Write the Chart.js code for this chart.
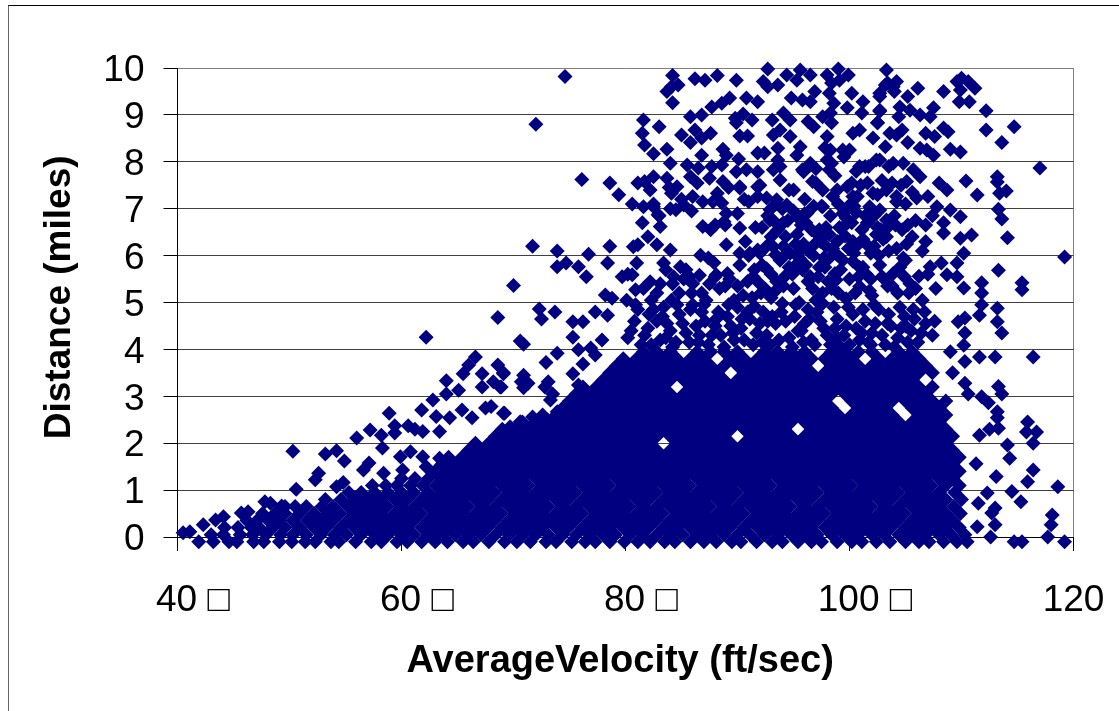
<!DOCTYPE html>
<html>
<head>
<meta charset="utf-8">
<title>Distance vs average velocity</title>
<script src="https://cdn.jsdelivr.net/npm/chart.js@4/dist/chart.umd.min.js"></script>
<style>
  html, body { margin: 0; padding: 0; background: #fff; overflow: hidden; }
  #frame { position: absolute; left: 8px; top: 5px; right: 0; bottom: 0; border-top: 1px solid #000; border-left: 1px solid #666; }
  #wrap { position: absolute; left: 0; top: 0; width: 1119px; height: 711px; }
</style>
</head>
<body>
<div id="frame"></div>
<div id="wrap"><canvas id="chart" width="1119" height="711"></canvas></div>
<script>
const yTickLabels = ['0', '1', '2', '3', '4', '5', '6', '7', '8', '9', '10'];
// the blank lead keeps the digits centred on the tick, the box hangs off to the right
const xTickLabels = ['\u00a0\u00a0\u00a040\u00a0\u25A1', '\u00a0\u00a0\u00a060\u00a0\u25A1', '\u00a0\u00a0\u00a080\u00a0\u25A1', '\u00a0\u00a0\u00a0100\u00a0\u25A1', '120'];

// isolated marks
const sparseVelocity = [
  74.6, 72, 76.1, 68.6, 62.2, 66.6, 66, 65.5, 67.2, 68.6, 69.1, 68.2, 68.8, 67.2, 65.1, 64, 64, 62.8, 61.8, 58.9, 63.1, 64.3, 65.4, 66.3, 67.5, 68, 69.1, 59.4, 59.4, 60.6, 61.2, 61.9, 63.4, 57.2, 58.2, 56, 58.3, 50.3, 53.2, 54.2, 54.9, 57.1, 52.6, 52.3, 54.8, 54.2, 50.6, 47.8, 48.3, 49.3, 46.3, 45.7, 44.1, 43.4, 42.3, 41.1, 40.5, 59.9, 60.8, 61.9, 62.2, 63.4, 60.1, 56.6, 58.4,
  71.7, 73.9, 76.7, 78.6, 73.9, 74.7, 75.8, 76.5, 78.4, 70, 72.3, 72.5, 73.7, 77.3, 78.4, 75.3, 76.2, 70.6, 70.9, 75.3, 77.9, 75.8, 76.9, 73.9, 72.9, 77.3, 76.2, 69.1, 70.9, 70.7, 71.3, 70.9, 73.1, 72.8, 75.3, 75.8, 68.9, 73.5, 73.3, 75.9, 77.2, 73.9, 75.9, 71.7, 69.2, 70.6, 75.3, 73, 69.7,
  79.7, 80.6, 81.1, 82.8, 80.7, 81, 83.4, 80.1, 80.9, 78.2, 78.8, 82.2, 82.8, 84.3, 84.9, 86.7, 87.4, 88.1, 89, 90.2, 91.1, 92, 93.2, 94.4,
  84.2, 86.2, 87.1, 88.2, 89.9, 92.7, 92.3, 92.7, 93.6, 94.4, 95.6, 95.3, 96.5, 94.8, 95.8, 96.9, 96.5, 84.7, 84.1, 83.7, 84.2, 89.3, 88.6, 87.7, 90.8, 91.8, 98, 99, 99.9, 98.4, 99.1, 98.2, 98.6, 100.2, 101.2, 99.8, 101.1, 103.3, 103.4, 102.7, 103.9, 102.7, 98.3, 98.4, 97.6,
  85.8, 86.8, 89.8, 90.5, 91.3, 89.9, 93.1, 94.1, 94.7, 96.3, 96.8, 83, 81.6, 81.5, 86.2, 85, 85.8, 86.8, 87.6, 90.2, 90.9, 93.8, 93.2, 94.7, 81.7, 82.5, 83.7, 86.8, 88.7, 89, 90.1, 91.8, 92.4, 93.6, 93.6, 95.6, 95.3, 93.8, 96.5, 95.8, 98, 98.3, 98.4, 99.4, 100.3, 102.1, 103.2, 102.5, 100.9, 100,
  104.2, 103.2, 104, 102.7, 106.1, 105.2, 102.7, 104.5, 105.4, 106.3, 107.5, 107.2, 108.4, 110, 109.6, 110.6, 111.2, 109.9, 109.8, 110.7, 112.2, 114.7, 112.2, 113.6, 104.4, 102.5, 108.4, 108.8, 103.6, 104.7, 104.2, 105.2, 106.8, 107.6, 106.3, 106.9, 107.5, 109, 109.9, 117, 110.4, 113.2, 113.2, 111.4, 113.4, 114, 108, 108.7, 107, 106, 105.7, 106.3, 105.1, 103.9, 104.8, 102.7, 100.9, 101.7, 104.2, 101.8, 100.3, 99.8, 97, 98.2, 96.5, 95.9,
  113.3, 113.6, 114.1, 107.8, 109, 109.9, 106.8, 108.4, 108.4, 109.9, 110.9, 119.2, 110.2, 109.6, 107.2, 108.2, 113.3, 108.7,
  115.4, 115.4, 111.8, 111.8, 110.2, 109.6, 111.8, 111.6, 113.2, 113.2, 113.6, 110.3, 109.7, 110.3, 110.2, 111.6, 113, 116.4, 109, 110.3, 109.2, 110.3, 110.6, 113.3, 113.6, 111.8, 112.4, 113.2, 113.2, 113.3, 112.5, 111.6, 115.9, 115.8, 116.7, 116.4, 114.1, 114.3, 111.3, 113.1, 116.4, 115.9, 118.6, 114.5, 115.3, 112.3, 111.5, 113, 112.7, 118.1, 118, 113, 111.4, 112.6, 117.7, 114.7, 115.4, 119.2,
  84, 85.5, 86.5, 87.7, 88.6, 89.9, 90.8, 91.8, 83.7, 84.6, 84.1, 85.8, 87.5, 88.7, 91.8, 90.2, 82.2, 82.5, 81.7, 84, 85.2, 86, 86.9, 88.2, 88.6, 90.2, 91, 91.8, 92.6, 93.5, 94.4, 95, 93.8, 93.2, 96.7, 98, 97.6, 98.5, 100.2, 101.6, 102.1, 102.7, 103.3, 100.7, 101.4, 103.5, 102.4, 81.6, 82.5, 82.9, 83.1, 86.9, 88, 88.9, 89, 90.2, 92.9, 94.1, 95.3, 96.2, 97.6, 99.4, 101.6, 103.3
];
const sparseDistance = [
  9.82, 8.8, 7.62, 4.68, 4.26, 3.84, 3.67, 3.48, 3.48, 3.67, 3.48, 3.31, 3.2, 3.2, 3.13, 3.33, 3.05, 2.92, 2.71, 2.64, 2.57, 2.54, 2.71, 2.54, 2.75, 2.78, 2.64, 2.37, 2.22, 2.37, 2.3, 2.25, 2.25, 2.28, 2.17, 2.11, 1.9, 1.83, 1.77, 1.84, 1.62, 1.58, 1.36, 1.22, 1.16, 1.07, 1.02, 0.75, 0.72, 0.66, 0.54, 0.51, 0.43, 0.36, 0.26, 0.11, 0.09, 1.71, 1.82, 1.71, 1.5, 1.68, 1.43, 1.43, 1.36,
  6.2, 6.1, 6.03, 6.2, 5.76, 5.84, 5.76, 5.55, 5.84, 5.36, 4.86, 4.65, 4.8, 4.8, 4.73, 4.59, 4.59, 4.18, 4.11, 4.26, 4.2, 3.99, 4.03, 3.92, 3.72, 3.88, 3.69, 3.5, 3.45, 3.31, 3.28, 3.18, 3.31, 3.2, 3.48, 3.24, 3.2, 3.05, 2.92, 2.99, 2.96, 2.67, 2.86, 2.56, 2.64, 2.46, 2.64, 2.5, 2.35,
  5.55, 5.59, 6.23, 6.23, 6.19, 5.84, 5.84, 5.05, 5.27, 5.16, 5.09, 5.44, 5.2, 5.55, 5.76, 6.01, 5.95, 5.59, 6.23, 6.05, 6.05, 6.05, 6.19, 6.05,
  9.84, 9.77, 9.74, 9.84, 9.74, 9.98, 9.71, 9.6, 9.64, 9.85, 9.96, 9.74, 9.85, 9.36, 9.32, 9.5, 9.28, 9.64, 9.6, 9.5, 9.26, 9.36, 9.25, 9.17, 9.36, 9.28, 9.85, 9.98, 9.85, 9.68, 9.74, 9.46, 9.25, 9.46, 9.28, 9.15, 9.04, 9.96, 9.68, 9.46, 9.6, 9.08, 9.04, 8.83, 8.96,
  8.96, 9, 8.93, 9.02, 8.89, 8.83, 8.89, 9.04, 8.89, 8.86, 8.75, 8.75, 8.89, 8.61, 8.68, 8.57, 8.41, 8.51, 8.61, 8.55, 8.55, 8.68, 8.57, 8.54, 8.36, 8.17, 8.27, 8.14, 8.27, 8.14, 8.06, 8.19, 8.19, 8.29, 8.04, 8.32, 8.14, 7.9, 7.97, 7.83, 8.54, 8.25, 7.97, 8.25, 8.61, 8.51, 8.32, 8.83, 8.68, 8.25,
  9.71, 9.64, 9.5, 9.39, 9.57, 9.39, 9.1, 9.17, 9.1, 9, 9.15, 8.96, 9.5, 9.78, 9.71, 9.71, 9.57, 9.53, 9.28, 9.28, 9.09, 8.75, 8.68, 8.41, 8.96, 8.83, 8.72, 8.64, 8.61, 8.68, 8.57, 8.41, 8.61, 8.54, 8.29, 8.25, 8.14, 8.27, 8.21, 7.87, 7.59, 7.68, 7.57, 7.29, 7.33, 7.38, 7.55, 7.4, 7.26, 7.23, 7.83, 7.68, 7.58, 7.97, 7.97, 8.04, 7.9, 7.9, 7.26, 7.04, 7.26, 7.47, 7.55, 7.83, 7.93, 7.79,
  6.99, 6.78, 6.38, 7.04, 6.97, 6.83, 6.65, 6.7, 6.48, 6.37, 6.44, 5.97, 6.05, 5.84, 5.76, 5.84, 5.69, 5.59,
  5.42, 5.27, 5.42, 5.2, 5.31, 5.55, 4.95, 4.73, 4.88, 4.59, 4.35, 4.67, 4.59, 4.35, 4.09, 3.84, 3.84, 3.84, 3.95, 3.74, 3.5, 3.28, 3.05, 3.21, 3.05, 2.99, 2.86, 2.67, 2.54, 2.32, 2.3, 2.17, 2.45, 2.24, 2.24, 2, 1.96, 1.68, 1.56, 1.29, 1.43, 1.18, 1.07, 0.97, 0.75, 0.94, 0.72, 0.62, 0.51, 0.47, 0.26, 0.26, 0.22, 0, 0, -0.1, -0.1, -0.1,
  7.97, 7.93, 7.87, 7.9, 7.93, 7.79, 7.83, 7.79, 7.65, 7.47, 7.33, 7.68, 7.65, 7.58, 7.47, 7.47, 7.4, 7.68, 7.58, 7, 7.08, 7.26, 7.15, 7.33, 7.12, 7.44, 7.15, 7.26, 7.23, 7.19, 7.08, 7.4, 7.61, 7.83, 7.58, 8.04, 7.4, 7.26, 7.55, 7.55, 7.33, 6.97, 7.4, 7.26, 7.9, 7.9, 8.04, 7.04, 7.04, 6.87, 6.62, 6.62, 6.65, 6.65, 6.9, 6.59, 6.76, 6.7, 6.83, 6.9, 7.04, 6.9, 6.7, 6.76
];

// loose clumps above four miles
const upperVelocity = [
  80.2, 80.8, 81.4, 82, 82.5, 83.1, 83.7, 84.2, 84.8, 85.4, 86, 86.5, 87.1, 87.7, 88.3, 88.8, 89.4, 90, 90.6, 91.1, 91.7, 92.3, 92.9, 93.4, 94, 94.6, 95.1, 95.7, 96.3, 96.9, 97.4, 98, 98.6, 99.2, 99.7, 100.3, 100.9, 101.4, 102, 102.6, 103.2, 103.7, 104.3, 104.9, 105.5, 106.1, 106.8, 107.4,
  80.5, 81.1, 81.7, 82.3, 82.8, 83.4, 84, 84.5, 85.1, 85.7, 86.3, 86.8, 87.4, 88, 88.5, 89.1, 89.7, 90.3, 90.9, 91.4, 92, 92.6, 93.1, 93.7, 94.3, 94.9, 95.4, 96, 96.6, 97.1, 97.7, 98.3, 98.9, 99.5, 100, 100.6, 101.2, 101.7, 102.3, 102.9, 103.5, 104, 104.6, 105.2, 105.8, 106.4,
  80.9, 82.1, 83.3, 84.6, 85.8, 87, 88.1, 89.2, 90.4, 91.5, 92.7, 93.9, 95.2, 96.4, 97.6, 98.7, 99.9, 101.1, 102.2, 103.4, 104.5, 105.7, 106.7, 107.6, 83.6, 86.6, 89.6, 92.2, 95.9, 98.9, 101.9, 105,
  84.8, 86, 87.2, 88.4, 89.3, 90.5, 91.9, 93, 94.1, 95.5, 96.3, 97.6, 98.8, 99.7, 100.9, 102, 103.1, 104.3, 105.4, 106.5, 107.7, 85.2, 92.5, 95, 97,
  85.4, 86.6, 87.9, 89.1, 90.2, 91.4, 92.6, 93.8, 94.9, 96.1, 97.2, 98.2, 99.2, 100.3, 101.5, 102.7, 103.9, 105, 106.2, 95.5, 97.8, 100.8, 104.5, 93,
  90.7, 91.8, 93, 94.1, 95.3, 96.4, 97.4, 98.5, 99.6, 100.7, 101.9, 103, 104.2, 105.6, 106.5, 82, 84, 95.9, 98.9, 97, 102.4,
  81.5, 83, 87.6, 88.8, 90, 91.6, 92.7, 93.9, 95, 96.1, 97.3, 98.3, 99.5, 100.6, 101.6, 102.8, 104, 105.2, 84.5, 85.9,
  79.4, 81.1, 82.5, 83.9, 85, 86.4, 87.8, 89.2, 90.6, 92, 93.4, 94.6, 96, 97.5, 98.9, 99.9, 101, 102.5, 103.8, 105, 78.6, 80.6,
  92.2, 93.4, 94.5, 95.8, 96.8, 97.9, 98.7, 99.9, 100.2, 101.2, 101.2, 102.2, 103.5, 103.4, 104.7, 105.3, 92.1, 93.5, 94.6, 95.7, 96.7, 97.7, 98.4, 99.4, 100.5, 101.9, 102.2, 103.4, 104.8, 92.9, 94.3, 95.6, 96.6, 97.9, 99.1, 100.3, 101.4, 102.6, 91, 90, 91.5, 89.7, 88, 86.8, 85.7, 84.2, 83.6, 82.3, 83.1, 81.6, 80.2,
  84.1, 85.9, 87.5, 88.9, 90.9, 91.3, 92.2, 93.4, 94.2, 95.2, 96.5, 97.3, 98.1, 99, 100, 100.9, 101.8, 102.9, 103.8, 104.9, 105.9, 107, 92.6, 93.6, 94.7, 95.2, 96, 96.9, 97.6, 98.2, 98.9, 99.7, 100.4, 101.1, 101.7, 102.5, 103.3, 104.1, 105.1, 105.9, 106.8, 107.4, 93.2, 94, 96.8, 99, 100.4, 104.2, 105.6, 97, 98.7, 99.5, 100.6, 97.8, 102.9, 104.6
];
const upperDistance = [
  4.25, 4.6, 4.1, 4.45, 4.85, 4.2, 4.55, 4.05, 4.75, 4.35, 4.95, 4.15, 4.6, 4.3, 4.8, 4.05, 4.5, 4.9, 4.2, 4.65, 4.35, 4.8, 4.1, 4.55, 4.98, 4.25, 4.7, 4.4, 4.85, 4.1, 4.6, 4.3, 4.9, 4.05, 4.5, 4.75, 4.2, 4.6, 4.35, 4.85, 4.1, 4.5, 4.25, 4.7, 4.4, 4.15, 4.55, 4.3,
  4.4, 4.85, 4.3, 4.1, 4.6, 4.9, 4.4, 4.15, 4.55, 4.15, 4.5, 4.8, 4.1, 4.5, 4.3, 4.7, 4.2, 4.45, 4.8, 4.1, 4.55, 4.3, 4.7, 4.2, 4.6, 4.05, 4.4, 4.55, 4.2, 4.8, 4.45, 4.1, 4.65, 4.3, 4.1, 4.45, 4.85, 4.15, 4.55, 4.3, 4.75, 4.05, 4.45, 4.15, 4.65, 4.35,
  4.95, 4.75, 4.7, 4.95, 4.85, 4.95, 4.65, 4.95, 4.65, 4.92, 4.6, 4.8, 4.95, 4.65, 4.98, 4.45, 4.9, 4.35, 4.95, 4.55, 4.9, 4.85, 4.8, 4.6, 4.25, 4.3, 4.35, 4.15, 4.15, 4.25, 4.1, 4.5,
  5.2, 5.4, 5.05, 5.3, 5.5, 5.15, 5.42, 5.1, 5.35, 5, 5.45, 5.2, 5.48, 5.08, 5.34, 5.15, 5.5, 5.2, 5.4, 5.05, 5.3, 5.5, 5.28, 5.3, 5.05,
  5.7, 5.58, 5.85, 5.62, 5.8, 5.55, 5.72, 5.9, 5.6, 5.8, 5.55, 5.95, 5.7, 5.88, 5.6, 5.8, 5.62, 5.9, 5.56, 5.95, 5.75, 5.55, 5.75, 5.6,
  6.3, 6.12, 6.4, 6.2, 6.45, 6.08, 6.3, 6.15, 6.42, 6.22, 6.05, 6.35, 6.15, 6.4, 6.1, 6.4, 6.12, 6.25, 6.02, 6.48, 6.45,
  6.7, 6.85, 6.55, 6.72, 6.9, 6.6, 6.85, 6.65, 6.95, 6.7, 6.55, 6.85, 6.62, 6.92, 6.7, 6.55, 6.85, 6.65, 6.98, 6.95,
  7.3, 7.55, 7.1, 7.45, 7.2, 7.55, 7.15, 7.45, 7.2, 7.5, 7.1, 7.4, 7.2, 7.05, 7.4, 7.05, 7.5, 7.3, 7.55, 7.1, 7.55, 7.1,
  6.6, 6.02, 6.75, 5.7, 6, 6.6, 5.62, 6.15, 6.7, 5.75, 6.35, 6.85, 6.1, 5.35, 6.55, 5.2, 5.2, 5.45, 5.75, 6.65, 5.3, 5.95, 5.3, 5.9, 5.2, 5.5, 6.2, 6.6, 5.95, 6.98, 6.4, 6.1, 6.55, 6.2, 6.6, 6.3, 6.85, 6, 6, 5.35, 5.7, 5.05, 5.55, 5.2, 5.55, 5.4, 5.7, 5.05, 5.4, 5.3, 5.6,
  5.05, 5.2, 5.4, 5.35, 5.45, 5.1, 5.8, 5.25, 5.55, 5.8, 5.55, 5.75, 5.45, 5.2, 5.5, 5.75, 5.25, 5.55, 5.35, 5.55, 5.3, 5.6, 6.2, 6.55, 6.05, 6.25, 6.9, 6.25, 6.4, 6.45, 6.3, 6.8, 6.05, 6.55, 6.2, 6.6, 6.4, 6.65, 6.25, 6.75, 6.3, 6.85, 6.75, 7, 7.05, 7.1, 7.05, 7.15, 7.35, 7.85, 7.7, 8.1, 7.8, 8.3, 7.6, 7.5
];

// crowded part of the cloud, read band by band
const bandDistance = [-0.1, 0.05, 0.2, 0.35, 0.5, 0.65, 0.8, 0.95, 1.1, 1.25, 1.4, 1.55, 1.7, 1.85, 2, 2.15, 2.3, 2.45, 2.6, 2.75, 2.9, 3.05, 3.2, 3.35, 3.5, 3.65, 3.8, 3.95];
const bandVelocity = [
  [41.9, 43.2, 44.6, 45.3, 46.8, 47.7, 49.1, 50.2, 51.4, 52.3, 53.7, 54.4, 55.9, 57.3, 58.2, 59.6, 60.5, 61.8, 63, 64.1, 65.5, 66.4, 67.8, 69.2, 70.3, 71.5, 72.9, 73.8, 75.2, 76.4, 77.3, 78.6, 79.9, 81.1, 82.2, 83.5, 84.4, 85.8, 87, 88.1, 89.5, 90.3, 91.7, 93.1, 94, 95.4, 96.6, 97.5, 98.9, 100.2, 101.1, 102.4, 103.6, 105, 106.2, 107.1, 108.4, 109.6, 110.5],
  [43, 44.1, 45.6, 46.7, 47.9, 49.2, 50.3, 51.5, 52.8, 54, 55.1, 56.4, 57.6, 58.8, 60, 61.1, 62.4, 63.6, 64.8, 66, 67.1, 68.4, 69.6, 70.8, 72, 73.1, 74.4, 75.6, 76.8, 78, 79.1, 80.4, 81.6, 82.8, 84, 85.1, 86.4, 87.6, 88.8, 90, 91.1, 92.4, 93.6, 94.8, 96, 97.1, 98.4, 99.6, 100.8, 102, 103.1, 104.4, 105.6, 106.8, 108, 109.1, 110.3],
  [44.2, 45.4, 46.6, 47.3, 48.5, 49.6, 50.9, 52.2, 53.3, 54.6, 55.8, 57, 58.2, 59.4, 60.5, 61.8, 63, 64.2, 65.4, 66.6, 67.7, 69, 70.2, 71.4, 72.6, 73.8, 74.9, 76.2, 77.4, 78.6, 79.8, 81, 82.1, 83.4, 84.6, 85.8, 87, 88.2, 89.3, 90.6, 91.8, 93, 94.2, 95.4, 96.5, 97.8, 99, 100.2, 101.4, 102.6, 103.7, 105, 106.2, 107.4, 108.6, 109.8],
  [46.2, 47.1, 48.1, 49.1, 50.3, 51.6, 52.8, 53.9, 55.2, 56.4, 57.6, 58.8, 60, 61.1, 62.4, 63.6, 64.8, 66, 67.2, 68.3, 69.6, 70.8, 72, 73.2, 74.4, 75.5, 76.8, 78, 79.2, 80.4, 81.6, 82.7, 84, 85.2, 86.4, 87.6, 88.8, 89.9, 91.2, 92.4, 93.6, 94.8, 96, 97.1, 98.4, 99.6, 100.8, 102, 103.2, 104.3, 105.6, 106.8, 108, 109.2],
  [47.6, 48.7, 49.6, 50.9, 52.2, 53.4, 54.5, 55.8, 57, 58.2, 59.4, 60.6, 61.7, 63, 64.2, 65.4, 66.6, 67.8, 68.9, 70.2, 71.4, 72.6, 73.8, 75, 76.1, 77.4, 78.6, 79.8, 81, 82.2, 83.3, 84.6, 85.8, 87, 88.2, 89.4, 90.5, 91.8, 93, 94.2, 95.4, 96.6, 97.7, 99, 100.2, 101.4, 102.6, 103.8, 104.9, 106.2, 107.4, 108.6, 109.9],
  [49.6, 50.5, 51.5, 52.9, 53.9, 55.2, 56.4, 57.6, 58.7, 60, 61.2, 62.4, 63.6, 64.8, 65.9, 67.2, 68.4, 69.6, 70.8, 72, 73.1, 74.4, 75.6, 76.8, 78, 79.2, 80.3, 81.6, 82.8, 84, 85.2, 86.4, 87.5, 88.8, 90, 91.2, 92.4, 93.6, 94.7, 96, 97.2, 98.4, 99.6, 100.8, 101.9, 103.2, 104.4, 105.6, 106.8, 108, 109.3],
  [53.2, 54.6, 55.8, 57, 58.2, 59.4, 60.5, 61.8, 63, 64.2, 65.4, 66.6, 67.7, 69, 70.2, 71.4, 72.6, 73.8, 74.9, 76.2, 77.4, 78.6, 79.8, 81, 82.1, 83.4, 84.6, 85.8, 87, 88.2, 89.3, 90.6, 91.8, 93, 94.2, 95.4, 96.5, 97.8, 99, 100.2, 101.4, 102.6, 103.7, 105, 106.2, 107.4, 108.6, 110],
  [55.3, 56.4, 57.6, 58.8, 60, 61.1, 62.4, 63.6, 64.8, 66, 67.2, 68.3, 69.6, 70.8, 72, 73.2, 74.4, 75.5, 76.8, 78, 79.2, 80.4, 81.6, 82.7, 84, 85.2, 86.4, 87.6, 88.8, 89.9, 91.2, 92.4, 93.6, 94.8, 96, 97.1, 98.4, 99.6, 100.8, 102, 103.2, 104.3, 105.6, 106.8, 108, 109.4],
  [57.4, 58.6, 59.6, 60.8, 61.9, 63.1, 64.2, 65.4, 66.6, 67.8, 69, 70.2, 71.3, 72.6, 73.8, 75, 76.2, 77.4, 78.5, 79.8, 81, 82.2, 83.4, 84.6, 85.7, 87, 88.2, 89.4, 90.6, 91.8, 92.9, 94.2, 95.4, 96.6, 97.8, 99, 100.1, 101.4, 102.6, 103.8, 105, 106.2, 107.3, 108.6, 109.8],
  [60, 61.2, 62.4, 63.6, 64.8, 66, 67.2, 68.4, 69.6, 70.8, 72, 73.2, 74.4, 75.6, 76.8, 78, 79.2, 80.4, 81.6, 82.8, 84, 85.2, 86.4, 87.6, 88.8, 90, 91.2, 92.4, 93.6, 94.8, 96, 97.2, 98.4, 99.6, 100.8, 102, 103.2, 104.4, 105.6, 106.8, 108, 109.2],
  [63, 64.2, 65.4, 66.6, 67.8, 69, 70.2, 71.4, 72.6, 73.8, 75, 76.2, 77.4, 78.6, 79.8, 81, 82.2, 83.4, 84.6, 85.8, 87, 88.2, 89.4, 90.6, 91.8, 93, 94.2, 95.4, 96.6, 97.8, 99, 100.2, 101.4, 102.6, 103.8, 105, 106.2, 107.4, 108.6, 109.8],
  [63.6, 64.8, 66, 67.2, 68.4, 69.6, 70.8, 72, 73.2, 74.4, 75.6, 76.8, 78, 79.2, 80.4, 81.6, 82.8, 84, 85.2, 86.4, 87.6, 88.8, 90, 91.2, 92.4, 93.6, 94.8, 96, 97.2, 98.4, 99.6, 100.8, 102, 103.2, 104.4, 105.6, 106.8, 108, 109.2],
  [64.2, 65.4, 66.6, 67.8, 69, 70.2, 71.4, 72.6, 73.8, 75, 76.2, 77.4, 78.6, 79.8, 81, 82.2, 83.4, 84.6, 85.8, 87, 88.2, 89.4, 90.6, 91.8, 93, 94.2, 95.4, 96.6, 97.8, 99, 100.2, 101.4, 102.6, 103.8, 105, 106.2, 107.4, 108.6, 109.8],
  [66, 67.2, 68.4, 69.6, 70.8, 72, 73.2, 74.4, 75.6, 76.8, 78, 79.2, 80.4, 81.6, 82.8, 84, 85.2, 86.4, 87.6, 88.8, 90, 91.2, 92.4, 93.6, 94.8, 96, 97.2, 98.4, 99.6, 100.8, 102, 103.2, 104.4, 105.6, 106.8, 108, 109.2],
  [66.6, 67.8, 69, 70.2, 71.4, 72.6, 73.8, 75, 76.2, 77.4, 78.6, 79.8, 81, 82.2, 84.6, 85.8, 87, 88.2, 89.4, 90.6, 91.8, 93, 94.2, 95.4, 96.6, 97.8, 99, 100.2, 101.4, 102.6, 103.8, 105, 106.2, 107.4, 108.6],
  [68.4, 69.6, 70.8, 72, 73.2, 74.4, 75.6, 76.8, 78, 79.2, 80.4, 81.6, 82.8, 84, 85.2, 86.4, 87.6, 88.8, 91.2, 92.4, 93.6, 94.8, 96, 97.2, 98.4, 99.6, 100.8, 102, 103.2, 104.4, 105.6, 106.8, 108, 109.2],
  [69, 70.2, 71.4, 72.6, 73.8, 75, 76.2, 77.4, 78.6, 79.8, 81, 82.2, 83.4, 84.6, 85.8, 87, 88.2, 89.4, 90.6, 91.8, 93, 94.2, 96.6, 97.8, 99, 100.2, 101.4, 102.6, 103.8, 105, 106.2, 107.4, 108.6],
  [70.8, 72, 73.2, 74.4, 75.6, 76.8, 78, 79.2, 80.4, 81.6, 82.8, 84, 85.2, 86.4, 87.6, 88.8, 90, 91.2, 92.4, 93.6, 94.8, 96, 97.2, 98.4, 99.6, 100.8, 102, 103.2, 104.4, 105.6, 106.8, 108],
  [72.6, 73.8, 75, 76.2, 77.4, 78.6, 79.8, 81, 82.2, 83.4, 84.6, 85.8, 87, 88.2, 89.4, 90.6, 91.8, 93, 94.2, 95.4, 96.6, 97.8, 99, 100.2, 101.4, 102.6, 103.8, 106.2, 107.4, 108.6],
  [74.4, 75.6, 76.8, 78, 79.2, 80.4, 81.6, 82.8, 84, 85.2, 86.4, 87.6, 88.8, 90, 91.2, 92.4, 93.6, 94.8, 96, 97.2, 98.4, 100.8, 102, 103.2, 105.6, 106.8, 108],
  [75, 76.2, 77.4, 78.6, 79.8, 81, 82.2, 83.4, 84.6, 85.8, 87, 88.2, 89.4, 90.6, 91.8, 93, 94.2, 95.4, 96.6, 97.8, 100.2, 101.4, 102.6, 103.8, 105, 106.2, 107.4, 108.6],
  [75.6, 76.8, 78, 79.2, 80.4, 81.6, 82.8, 84, 85.2, 86.4, 87.6, 88.8, 90, 91.2, 92.4, 93.6, 94.8, 96, 97.2, 98.4, 99.6, 100.8, 102, 103.2, 104.4, 105.6, 106.8],
  [76.2, 77.4, 78.6, 79.8, 81, 82.2, 83.4, 85.8, 87, 88.2, 89.4, 90.6, 91.8, 93, 94.2, 95.4, 96.6, 97.8, 99, 100.2, 101.4, 102.6, 103.8, 105, 106.2, 107.4],
  [78, 79.2, 80.4, 81.6, 82.8, 84, 85.2, 86.4, 87.6, 88.8, 90, 91.2, 92.4, 93.6, 94.8, 96, 97.2, 98.4, 99.6, 100.8, 102, 103.2, 104.4, 105.6],
  [78.6, 79.8, 81, 82.2, 83.4, 84.6, 85.8, 87, 88.2, 90.6, 91.8, 93, 94.2, 95.4, 96.6, 97.8, 99, 100.2, 101.4, 102.6, 103.8, 105, 106.2, 107.4],
  [79.2, 80.4, 81.6, 82.8, 84, 85.2, 86.4, 87.6, 88.8, 90, 91.2, 92.4, 93.6, 94.8, 96, 98.4, 99.6, 100.8, 102, 103.2, 104.4, 105.6, 106.8],
  [79.8, 81, 82.2, 83.4, 84.6, 85.8, 87, 89.4, 90.6, 91.8, 93, 94.2, 95.4, 96.6, 97.8, 99, 100.2, 102.6, 103.8, 105, 106.2],
  [81.6, 82.8, 84, 86.4, 87.6, 88.8, 90, 92.4, 93.6, 94.8, 96, 98.4, 99.6, 100.8, 102, 104.4, 105.6]
];

// flatten the lists into the point table Chart.js wants
const points = sparseVelocity.map((v, i) => ({ x: v, y: sparseDistance[i] }));
upperVelocity.forEach((v, i) => points.push({ x: v, y: upperDistance[i] }));
bandVelocity.forEach((list, i) => {
  list.forEach((v) => points.push({ x: v, y: bandDistance[i] }));
});

function gridColor(ctx) {
  if (ctx.tick.value === 10) return '#808080';
  if (ctx.tick.value === 0) return '#000000';
  return '#404040';
}

new Chart(document.getElementById('chart'), {
  type: 'scatter',
  data: {
    datasets: [{
      data: points,
      pointStyle: 'rectRot',
      pointRadius: 7.5,
      backgroundColor: '#000080',
      borderWidth: 0,
      clip: false
    }]
  },
  options: {
    responsive: false,
    animation: false,
    layout: { padding: { top: 68, right: 45.5, left: 0, bottom: 0 } },
    plugins: { legend: { display: false }, tooltip: { enabled: false } },
    scales: {
      x: {
        type: 'linear',
        min: 40,
        max: 120,
        afterFit: (scale) => {
          scale.height = 174;
          scale.paddingLeft = 0;
          scale.paddingRight = 0;
        },
        afterBuildTicks: (scale) => { scale.ticks = [40, 60, 80, 100, 120].map((v) => ({ value: v })); },
        border: { color: '#000000' },
        grid: {
          color: (ctx) => (ctx.tick.value === 120 ? '#808080' : 'rgba(0,0,0,0)'),
          tickColor: '#000000',
          tickLength: 14
        },
        ticks: {
          maxRotation: 0,
          autoSkip: false,
          color: '#000000',
          padding: 28,
          font: { family: '"Liberation Sans"', size: 37 },
          callback: (v) => xTickLabels[(v - 40) / 20]
        },
        title: {
          display: true,
          text: 'AverageVelocity (ft/sec)\u00a0',
          color: '#000000',
          font: { family: '"Liberation Sans"', size: 38, weight: 'bold' },
          padding: { top: 0, bottom: 27 }
        }
      },
      y: {
        type: 'linear',
        min: 0,
        max: 10,
        afterFit: (scale) => { scale.width = 177.5; },
        border: { color: '#000000' },
        grid: { color: gridColor, tickColor: '#000000', tickLength: 14 },
        ticks: {
          stepSize: 1,
          autoSkip: false,
          color: '#000000',
          padding: 19,
          labelOffset: 3,
          font: { family: '"Liberation Sans"', size: 37 },
          callback: (v) => yTickLabels[v]
        },
        title: {
          display: true,
          text: '\u00a0Distance (miles)',
          color: '#000000',
          font: { family: '"Liberation Sans"', size: 37, weight: 'bold' },
          padding: { top: 38, bottom: 0 }
        }
      }
    }
  }
});
</script>
</body>
</html>
